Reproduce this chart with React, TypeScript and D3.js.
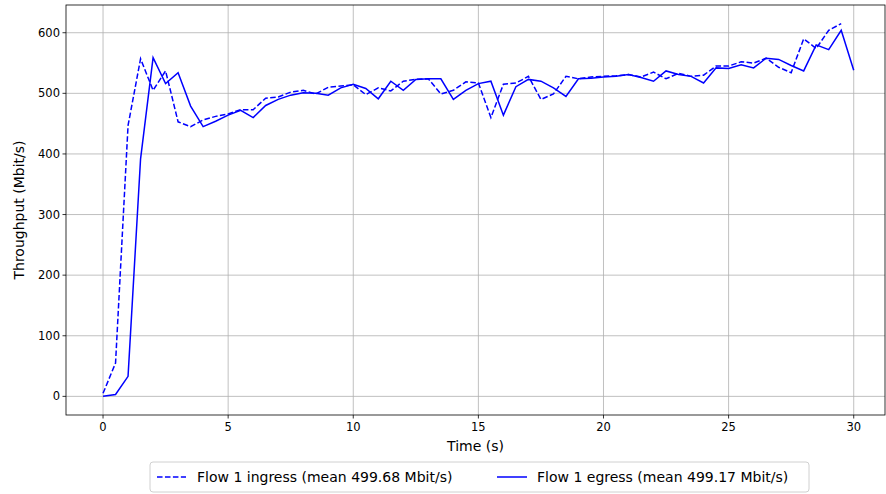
import React from "react";
import * as d3 from "d3";

const ingressTimes: number[] = d3.range(0, 60).map((i) => i * 0.5);
const ingressValues: number[] = [
  5, 55, 447, 557, 505, 537, 453, 445, 456, 462,
  466, 473, 473, 492, 494, 502, 505, 499, 510, 512,
  514, 498, 509, 504, 520, 523, 524, 499, 505, 519,
  517, 460, 515, 517, 528, 490, 499, 528, 524, 527,
  528, 529, 531, 527, 535, 524, 533, 528, 530, 545,
  545, 552, 550, 558, 543, 534, 590, 574, 604, 615,
];
const egressTimes: number[] = d3.range(0, 61).map((i) => i * 0.5);
const egressValues: number[] = [
  0, 3, 33, 392, 559, 516, 534, 479, 445, 454,
  464, 472, 460, 480, 490, 497, 501, 500, 497, 509,
  515, 508, 491, 520, 505, 523, 524, 524, 490, 505,
  516, 520, 464, 511, 523, 520, 509, 495, 524, 525,
  527, 528, 531, 526, 520, 537, 531, 528, 517, 542,
  541, 547, 542, 558, 556, 546, 537, 580, 572, 604,
  538,
];
const xTicks: number[] = [0, 5, 10, 15, 20, 25, 30];
const yTicks: number[] = [0, 100, 200, 300, 400, 500, 600];
const legendLabels: string[] = [
  "Flow 1 ingress (mean 499.68 Mbit/s)",
  "Flow 1 egress (mean 499.17 Mbit/s)",
];

const W = 886;
const H = 494;
const L = 66;
const R = 885;
const T = 5;
const B = 415;
const FONT = "DejaVu Sans, sans-serif";

export default function App() {
  const x = d3.scaleLinear().domain([-1.48, 31.25]).range([L, R]);
  const y = d3.scaleLinear().domain([-30.75, 645.75]).range([B, T]);
  const line = d3
    .line<[number, number]>()
    .x((d) => x(d[0]))
    .y((d) => y(d[1]));
  const ing = ingressTimes.map((t, i) => [t, ingressValues[i]] as [number, number]);
  const eg = egressTimes.map((t, i) => [t, egressValues[i]] as [number, number]);

  return (
    <svg
      width={W}
      height={H}
      style={{ position: "absolute", left: 0, top: 0, background: "#fff" }}
      fontFamily={FONT}
    >
      <rect x={0} y={0} width={W} height={H} fill="#fff" />
      <defs>
        <clipPath id="plot">
          <rect x={L} y={T} width={R - L} height={B - T} />
        </clipPath>
      </defs>
      {xTicks.map((t) => (
        <line key={"gx" + t} x1={x(t)} x2={x(t)} y1={T} y2={B} stroke="#b0b0b0" strokeWidth={0.8} />
      ))}
      {yTicks.map((v) => (
        <line key={"gy" + v} x1={L} x2={R} y1={y(v)} y2={y(v)} stroke="#b0b0b0" strokeWidth={0.8} />
      ))}
      <g clipPath="url(#plot)">
        <path d={line(ing) || ""} fill="none" stroke="#0000ff" strokeWidth={1.5} strokeDasharray="5.55,2.4" />
        <path d={line(eg) || ""} fill="none" stroke="#0000ff" strokeWidth={1.5} />
      </g>
      <rect x={L} y={T} width={R - L} height={B - T} fill="none" stroke="#000" strokeWidth={0.8} />
      {xTicks.map((t) => (
        <g key={"tx" + t}>
          <line x1={x(t)} x2={x(t)} y1={B} y2={B + 3.5} stroke="#000" strokeWidth={0.8} />
          <text x={x(t)} y={B + 16} fontSize={11.5} textAnchor="middle" fill="#000">
            {t}
          </text>
        </g>
      ))}
      {yTicks.map((v) => (
        <g key={"ty" + v}>
          <line x1={L - 3.5} x2={L} y1={y(v)} y2={y(v)} stroke="#000" strokeWidth={0.8} />
          <text x={L - 6} y={y(v) + 4} fontSize={11.5} textAnchor="end" fill="#000">
            {v}
          </text>
        </g>
      ))}
      <text x={(L + R) / 2} y={451} fontSize={14} textAnchor="middle" fill="#000">
        Time (s)
      </text>
      <text
        transform={`translate(24,${(T + B) / 2}) rotate(-90)`}
        fontSize={14}
        textAnchor="middle"
        fill="#000"
      >
        Throughput (Mbit/s)
      </text>
      <g>
        <rect x={150} y={462} width={659} height={30} rx={3} fill="#fff" stroke="#d0d0d0" strokeWidth={1} />
        <line x1={157} x2={186} y1={477} y2={477} stroke="#0000ff" strokeWidth={1.5} strokeDasharray="5.55,2.4" />
        <text x={197} y={482} fontSize={14} fill="#000">
          {legendLabels[0]}
        </text>
        <line x1={497} x2={527} y1={477} y2={477} stroke="#0000ff" strokeWidth={1.5} />
        <text x={537} y={482} fontSize={14} fill="#000">
          {legendLabels[1]}
        </text>
      </g>
    </svg>
  );
}
